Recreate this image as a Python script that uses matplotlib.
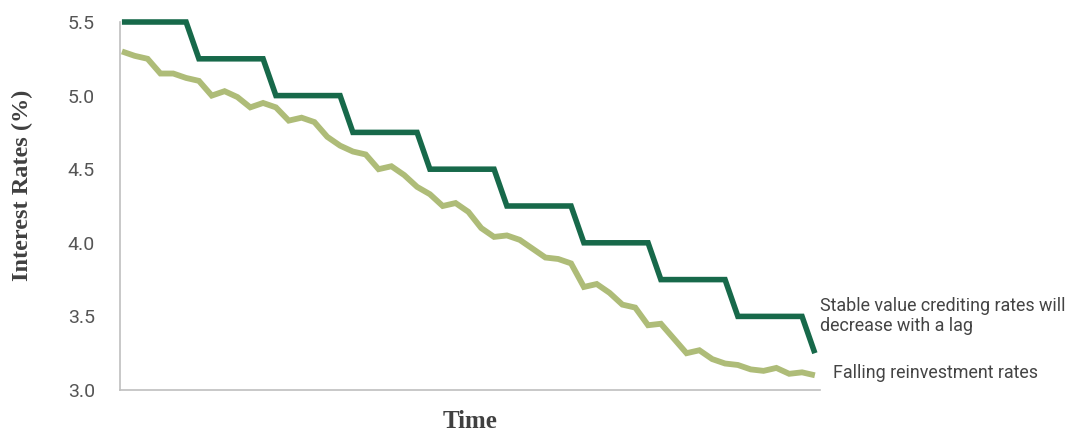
import matplotlib
matplotlib.use("Agg")
import matplotlib.pyplot as plt
import numpy as np

# Data
crediting_rates = [5.5] * 6 + [5.25] * 6 + [5.0] * 6 + [4.75] * 6 + [4.5] * 6 + \
    [4.25] * 6 + [4.0] * 6 + [3.75] * 6 + [3.5] * 6 + [3.25]
reinvestment_rates = [5.30, 5.27, 5.25, 5.15, 5.15, 5.12, 5.10, 5.00, 5.03, 4.99,
                      4.92, 4.95, 4.92, 4.83, 4.85, 4.82, 4.72, 4.66, 4.62, 4.60,
                      4.50, 4.52, 4.46, 4.38, 4.33, 4.25, 4.27, 4.21, 4.10, 4.04,
                      4.05, 4.02, 3.96, 3.90, 3.89, 3.86, 3.70, 3.72, 3.66, 3.58,
                      3.56, 3.44, 3.45, 3.35, 3.25, 3.27, 3.21, 3.18, 3.17, 3.14,
                      3.13, 3.15, 3.11, 3.12, 3.10]
y_ticks = [3.0, 3.5, 4.0, 4.5, 5.0, 5.5]
label_credit = "Stable value crediting rates will\ndecrease with a lag"
label_reinv = "Falling reinvestment rates"

DARK = "#17694A"
LIGHT = "#AEBC78"
TXT = "#555555"
sans = ["Roboto", "DejaVu Sans"]
serif = ["Liberation Serif", "DejaVu Serif"]

fig = plt.figure(figsize=(10.77, 4.32), dpi=100)
ax = fig.add_axes([120 / 1077, 1 - 390 / 432, 700 / 1077, 368 / 432])

x = np.arange(len(crediting_rates))
ax.plot(np.arange(len(reinvestment_rates)), reinvestment_rates, color=LIGHT, lw=4.2,
        solid_joinstyle="miter", solid_capstyle="butt", clip_on=False)
ax.plot(x, crediting_rates, color=DARK, lw=4.0, solid_joinstyle="miter",
        solid_capstyle="butt", clip_on=False)

ax.set_xlim(-0.15, 54.4)
ax.set_ylim(3.0, 5.5)
ax.set_yticks(y_ticks)
ax.set_yticklabels([f"{v:.1f}" for v in y_ticks], family=sans, fontsize=14, color=TXT)
ax.set_xticks([])
ax.tick_params(axis="y", length=0, pad=18)

for s in ["top", "right"]:
    ax.spines[s].set_visible(False)
for s in ["left", "bottom"]:
    ax.spines[s].set_color("#BFBFBF")
    ax.spines[s].set_linewidth(1.2)

fig.text(22 / 1077, 1 - 185 / 432, "Interest Rates (%)", rotation=90, ha="center",
         va="center", family=serif, fontweight="bold",
         fontsize=17.5, color="#404040")
fig.text(470 / 1077, 1 - 421 / 432, "Time", ha="center", va="center",
         family=serif, fontweight="bold", fontsize=18, color="#404040")

ax.annotate(label_credit, xy=(0, 0), xycoords="figure pixels",
            xytext=(820, 432 - 316), textcoords="figure pixels",
            ha="left", va="center", family=sans, fontsize=12.9, color="#444444",
            linespacing=1.1)
ax.annotate(label_reinv, xy=(0, 0), xycoords="figure pixels",
            xytext=(833, 432 - 373), textcoords="figure pixels",
            ha="left", va="center", family=sans, fontsize=12.9, color="#444444")

fig.savefig("out.png", dpi=100)
